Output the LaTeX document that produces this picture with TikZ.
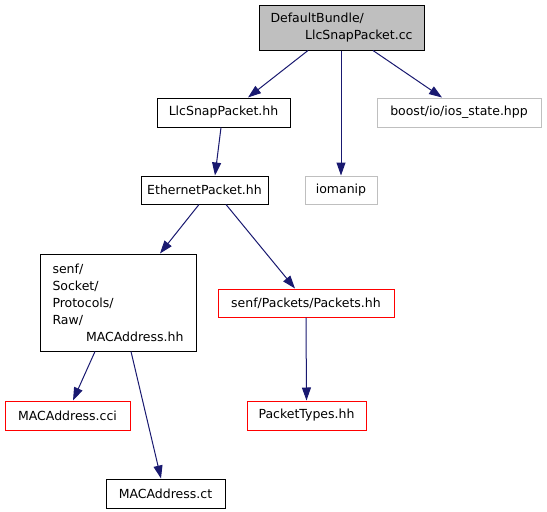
\documentclass[tikz,border=0pt]{standalone}
\usepackage{fontspec}
\setmainfont{DejaVu Sans}
\usetikzlibrary{arrows.meta}
\definecolor{edgec}{HTML}{191970}
\definecolor{grayc}{HTML}{BFBFBF}
\begin{document}
\begin{tikzpicture}[x=1pt,y=-1pt,
  box/.style={draw=black, rectangle, inner sep=0pt, line width=1pt,
    font=\fontsize{12.5}{17}\selectfont, minimum height=29pt},
  graybox/.style={box, draw=grayc},
  redbox/.style={box, draw=red},
  edge/.style={draw=edgec, line width=1pt, -{Triangle[length=13pt,width=9pt]}}]
\useasboundingbox (0,0) rectangle (547,512);
\node[box, fill=grayc, minimum height=45pt, text width=142pt, inner xsep=11.5pt, align=left]
  (cc) at (341.5,27.5) {DefaultBundle/\\\mbox{}\hfill LlcSnapPacket.cc};
\node[box, minimum width=133pt] (llch) at (223.5,112.5) {LlcSnapPacket.hh};
\node[graybox, minimum width=164pt] (boost) at (459,112.5) {boost/io/ios\_state.hpp};
\node[graybox, minimum width=72pt, minimum height=28pt] (iom) at (341,190) {iomanip};
\node[box, minimum width=127pt, minimum height=28pt] (eth) at (204.5,190) {EthernetPacket.hh};
\node[box, minimum height=97pt, text width=131pt, inner xsep=12.5pt, align=left]
  (mac) at (118,302.5) {senf/\\Socket/\\Protocols/\\Raw/\\\mbox{}\hfill MACAddress.hh};
\node[redbox, minimum width=176pt, minimum height=28pt] (pk) at (306,303) {senf/Packets/Packets.hh};
\node[redbox, minimum width=125pt] (cci) at (67.5,415.5) {MACAddress.cci};
\node[redbox, minimum width=119pt] (pt) at (306.5,415.5) {PacketTypes.hh};
\node[box, minimum width=119pt] (ct) at (165.5,493.5) {MACAddress.ct};
\draw[edge] ([xshift=-33.5pt]cc.south) -- ([xshift=24.5pt]llch.north);
\draw[edge] ([xshift=-0.5pt]cc.south) -- (iom.north);
\draw[edge] ([xshift=31.5pt]cc.south) -- ([xshift=-17pt]boost.north);
\draw[edge] ([xshift=-2.5pt]llch.south) -- ([xshift=10.5pt]eth.north);
\draw[edge] ([xshift=-5.5pt]eth.south) -- ([xshift=42pt]mac.north);
\draw[edge] ([xshift=21.5pt]eth.south) -- ([xshift=-11pt]pk.north);
\draw[edge] ([xshift=-23pt]mac.south) -- ([xshift=5.5pt]cci.north);
\draw[edge] ([xshift=13pt]mac.south) -- ([xshift=-4.5pt]ct.north);
\draw[edge] (pk.south) -- (pt.north);
\end{tikzpicture}
\end{document}
